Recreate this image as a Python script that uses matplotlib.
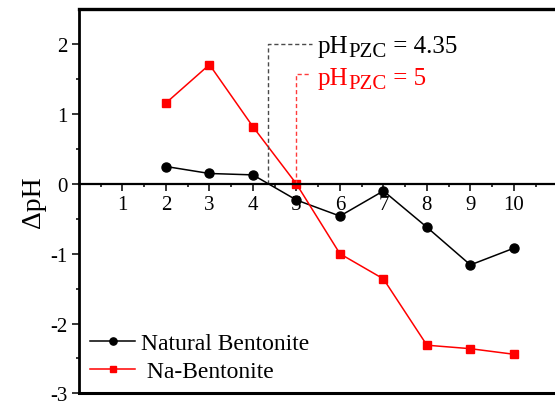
import matplotlib
matplotlib.use('Agg')
import matplotlib.pyplot as plt
from matplotlib.ticker import FixedLocator

plt.rcParams['font.family'] = ['Liberation Serif', 'DejaVu Serif']
plt.rcParams['axes.unicode_minus'] = False

# initial pH and the measured pH change
ph = [2, 3, 4, 5, 6, 7, 8, 9, 10]
natural = [0.25, 0.15, 0.13, -0.23, -0.46, -0.10, -0.62, -1.16, -0.92]
na_bent = [1.16, 1.71, 0.82, 0.0, -1.00, -1.36, -2.31, -2.36, -2.44]
labels = ['Natural Bentonite', ' Na-Bentonite']
pzc_natural = 4.35
pzc_na = 5
xticks = [1, 2, 3, 4, 5, 6, 7, 8, 9, 10]
yticks = [-3, -2, -1, 0, 1, 2]

fig = plt.figure(figsize=(5.55, 4.02), dpi=100)
ax = fig.add_axes([0.1423, 0.019, 0.862, 0.955])

ax.plot(ph, natural, '-o', color='black', lw=1.1, ms=6.5, label=labels[0])
ax.plot(ph, na_bent, '-s', color='red', lw=1.1, ms=5.8, label=labels[1])

ax.set_xlim(0, 11)
ax.set_ylim(-3, 2.5)

# x axis crosses at zero, like the origin plot
ax.spines['bottom'].set_position(('data', 0))
ax.spines['bottom'].set_linewidth(1.6)
ax.spines['left'].set_linewidth(2.0)
ax.spines['top'].set_linewidth(2.4)
ax.spines['right'].set_linewidth(2.0)
ax.axhline(-3, color='black', lw=2.2, clip_on=False)

ax.set_xticks(xticks)
ax.xaxis.set_minor_locator(FixedLocator([x + 0.5 for x in range(0, 11)]))
ax.set_yticks(yticks)
ax.yaxis.set_minor_locator(FixedLocator([y + 0.5 for y in yticks[:-1]]))
ax.tick_params(axis='both', which='major', direction='out', length=5, width=1.1, labelsize=15)
ax.tick_params(axis='both', which='minor', direction='out', length=2.5, width=1.1)
ax.tick_params(axis='x', pad=3)
ax.tick_params(axis='y', pad=3)

ax.set_ylabel('ΔpH', fontsize=20, labelpad=3)

# pHpzc guides
ax.plot([pzc_natural, pzc_natural, 5.35], [0, 2.0, 2.0], ls=(0, (3, 2)), color='#4a4a4a', lw=1.0)
ax.plot([pzc_na, pzc_na, 5.32], [0, 1.58, 1.58], ls=(0, (3, 2)), color='#ff3b3b', lw=1.0)


def pzc_label(y, value, color):
    t1 = ax.text(5.49, y, 'pH', fontsize=18, color=color, va='baseline', ha='left')
    t2 = ax.annotate('PZC', xy=(1, 0), xycoords=t1, xytext=(0, -3), textcoords='offset points',
                     fontsize=15, color=color, va='bottom', ha='left')
    ax.annotate(' = ' + value, xy=(1, 0), xycoords=(t2, t1), fontsize=18, color=color,
                va='bottom', ha='left')


pzc_label(1.89, str(pzc_natural), 'black')
pzc_label(1.435, str(pzc_na), 'red')

ax.legend(loc='lower left', frameon=False, fontsize=17, handlelength=1.9, handletextpad=0.25,
          labelspacing=0.27, borderpad=0.37, borderaxespad=0.1, markerscale=0.8)

fig.savefig('out.png', dpi=100)
